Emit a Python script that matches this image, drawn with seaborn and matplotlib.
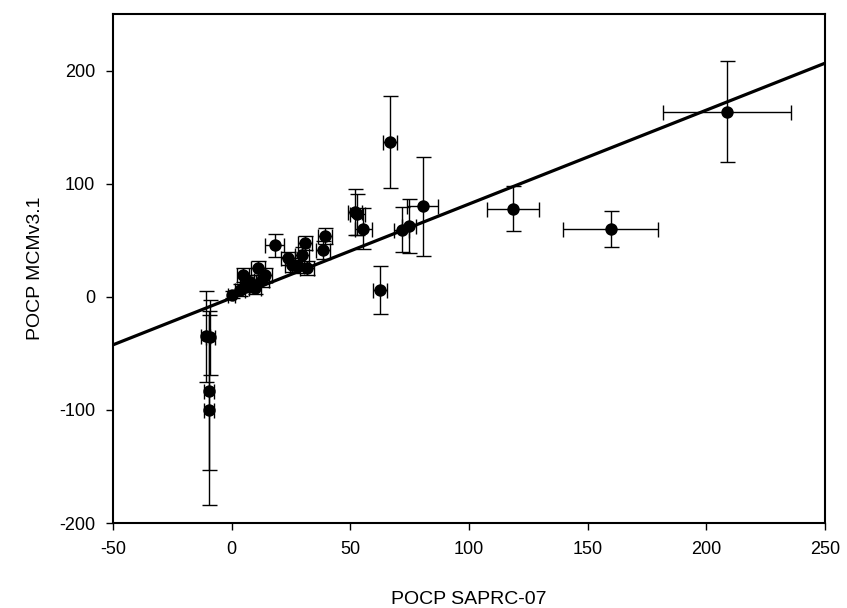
import numpy as np
import pandas as pd
import seaborn as sns
import matplotlib
matplotlib.use("Agg")
import matplotlib.pyplot as plt

# POCP values
saprc = [-11, -9, -9.5, -9.5, 0, 3.5, 4.9, 5.6, 7.7, 9.8, 11.2, 12.6, 14,
         18.2, 23.9, 25.3, 27.4, 29.5, 30.9, 31.6, 38.6, 39.3, 52, 53, 55.5,
         62.5, 66.7, 71.6, 74.7, 80.5, 118.6, 159.8, 208.8]
mcm = [-35, -36, -83, -100, 2, 6, 19.5, 10.6, 13.5, 7.7, 25.4, 15, 19.5,
       45.4, 34, 28.3, 26.8, 37, 47.5, 25.4, 41.6, 53.4, 75, 73, 60.2,
       5.9, 136.9, 59.3, 62.8, 80, 78, 60.2, 163.7]
saprc_err = [2, 2, 2, 2, 1.5, 2, 2.5, 2, 2.5, 2.5, 3, 3, 3,
             4, 3, 3, 3, 3, 3, 3, 3, 3, 3, 3, 3.5,
             3, 3, 3, 3, 6.5, 11, 20, 27]
mcm_err = [40, 33, 70, 84, 3, 5, 6, 6, 6, 5, 6, 6, 6,
           10, 6, 6, 6, 7, 6, 6, 8, 7, 20, 18, 18,
           21, 41, 20, 24, 44, 20, 16, 44.5]

# fitted line
fit_slope = 0.83
fit_intercept = -1.0

df = pd.DataFrame({"saprc": saprc, "mcm": mcm,
                   "xerr": saprc_err, "yerr": mcm_err})

sns.set_style("ticks")
plt.rcParams["font.family"] = ["Liberation Sans", "DejaVu Sans"]
plt.rcParams["axes.unicode_minus"] = False
plt.rcParams["text.color"] = "black"
plt.rcParams["axes.labelcolor"] = "black"

fig, ax = plt.subplots(figsize=(8.47, 6.08), dpi=100)
fig.subplots_adjust(left=0.1334, right=0.974, bottom=0.1398, top=0.977)

ax.errorbar(df["saprc"], df["mcm"], xerr=df["xerr"], yerr=df["yerr"],
            fmt="none", ecolor="black", elinewidth=1.0, capsize=5.4,
            capthick=1.0, zorder=2)
sns.scatterplot(data=df, x="saprc", y="mcm", color="black", s=80,
                edgecolor="black", linewidth=0, ax=ax, zorder=3)
ax.axline((0, fit_intercept), slope=fit_slope, color="black", lw=2.3, zorder=4)

ax.set_xlim(-50, 250)
ax.set_ylim(-200, 250)
ax.set_xticks(np.arange(-50, 251, 50))
ax.set_yticks(np.arange(-200, 201, 100))
ax.set_xlabel("POCP SAPRC-07", fontsize=14, labelpad=24)
ax.set_ylabel("POCP MCMv3.1", fontsize=14, labelpad=11)
ax.tick_params(direction="out", length=5, width=1, labelsize=13, colors="black")
ax.tick_params(axis="x", pad=8)
ax.tick_params(axis="y", pad=8)

for side in ax.spines.values():
    side.set_visible(True)
    side.set_linewidth(1.5)
    side.set_color("black")

fig.savefig("out.png", dpi=100)
